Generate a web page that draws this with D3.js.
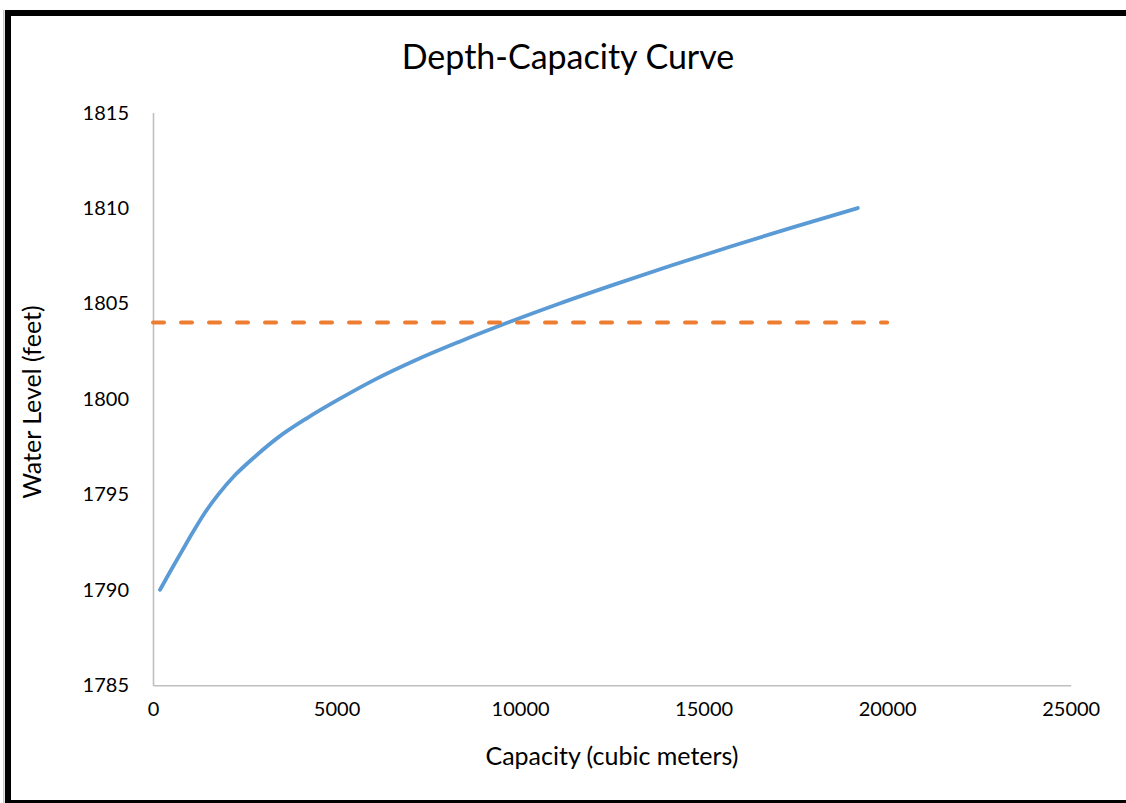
<!DOCTYPE html>
<html>
<head>
<meta charset="utf-8">
<script src="https://cdn.jsdelivr.net/npm/d3@7"></script>
<style>
  html, body { margin: 0; padding: 0; background: #fff; }
  svg { display: block; font-family: Lato, "Open Sans", sans-serif; }
</style>
</head>
<body>
<svg id="chart" width="1126" height="803"></svg>
<script>
// Storage capacity (cubic meters) at each water level (feet)
const waterLevels = [1790, 1791, 1792, 1793, 1794, 1795, 1796, 1797, 1798, 1799, 1800,
                     1801, 1802, 1803, 1804, 1805, 1806, 1807, 1808, 1809, 1810];
const capacities  = [190, 480, 780, 1080, 1400, 1780, 2230, 2790, 3420, 4200, 5080,
                     6030, 7120, 8350, 9670, 11080, 12580, 14140, 15760, 17450, 19200];

// Reference water level drawn as a horizontal dashed line
const refLevel = 1804;
const refCapacityRange = [0, 20000];

const xTicks = [0, 5000, 10000, 15000, 20000, 25000];
const yTicks = [1785, 1790, 1795, 1800, 1805, 1810, 1815];

const svg = d3.select("#chart");

// Frame around the chart
svg.append("rect").attr("x", 3).attr("y", 10).attr("width", 1.5).attr("height", 793).attr("fill", "#c8c8c8");
svg.append("rect").attr("x", 5).attr("y", 10).attr("width", 6).attr("height", 793).attr("fill", "#000");
svg.append("rect").attr("x", 5).attr("y", 10).attr("width", 1121).attr("height", 6).attr("fill", "#000");
svg.append("rect").attr("x", 5).attr("y", 800).attr("width", 1121).attr("height", 3).attr("fill", "#000");

const x = d3.scaleLinear().domain([0, 25000]).range([153, 1070.7]);
const y = d3.scaleLinear().domain([1785, 1815]).range([685.3, 112.6]);

// Axes: light grey domain lines, no tick marks
const xAxis = svg.append("g")
  .attr("transform", `translate(0,${y(1785)})`)
  .call(d3.axisBottom(x).tickValues(xTicks).tickSize(0).tickPadding(24).tickFormat(d3.format("d")));
const yAxis = svg.append("g")
  .attr("transform", `translate(${x(0)},0)`)
  .call(d3.axisLeft(y).tickValues(yTicks).tickSize(0).tickPadding(24).tickFormat(d3.format("d")));

[xAxis, yAxis].forEach(g => {
  g.select(".domain").attr("stroke", "#bfbfbf").attr("stroke-width", 1.6);
  g.selectAll("text")
    .attr("fill", "#000")
    .style("font-family", "Lato, 'Open Sans', sans-serif")
    .style("font-size", "20px");
});
xAxis.selectAll("text").attr("dy", "0.35em");

// Capacity curve
const pts = capacities.map((c, i) => [c, waterLevels[i]]);
const line = d3.line()
  .x(d => x(d[0]))
  .y(d => y(d[1]))
  .curve(d3.curveMonotoneX);

svg.append("path")
  .datum(pts)
  .attr("d", line)
  .attr("fill", "none")
  .attr("stroke", "#5b9bd5")
  .attr("stroke-width", 3.8)
  .attr("stroke-linecap", "round");

// Reference level line
svg.append("path")
  .datum(refCapacityRange.map(c => [c, refLevel]))
  .attr("d", d3.line().x(d => x(d[0])).y(d => y(d[1])))
  .attr("fill", "none")
  .attr("stroke", "#ed7d31")
  .attr("stroke-width", 4)
  .attr("stroke-dasharray", "11,17")
  .attr("stroke-linecap", "round");

// Title and axis titles
svg.append("text")
  .attr("x", 568).attr("y", 69)
  .attr("text-anchor", "middle")
  .style("font-size", "34px")
  .attr("fill", "#000")
  .text("Depth-Capacity Curve");

svg.append("text")
  .attr("x", 612).attr("y", 765)
  .attr("text-anchor", "middle")
  .style("font-size", "25px")
  .attr("fill", "#000")
  .text("Capacity (cubic meters)");

svg.append("text")
  .attr("transform", "translate(41,402) rotate(-90)")
  .attr("text-anchor", "middle")
  .style("font-size", "25px")
  .attr("fill", "#000")
  .text("Water Level (feet)");
</script>
</body>
</html>
